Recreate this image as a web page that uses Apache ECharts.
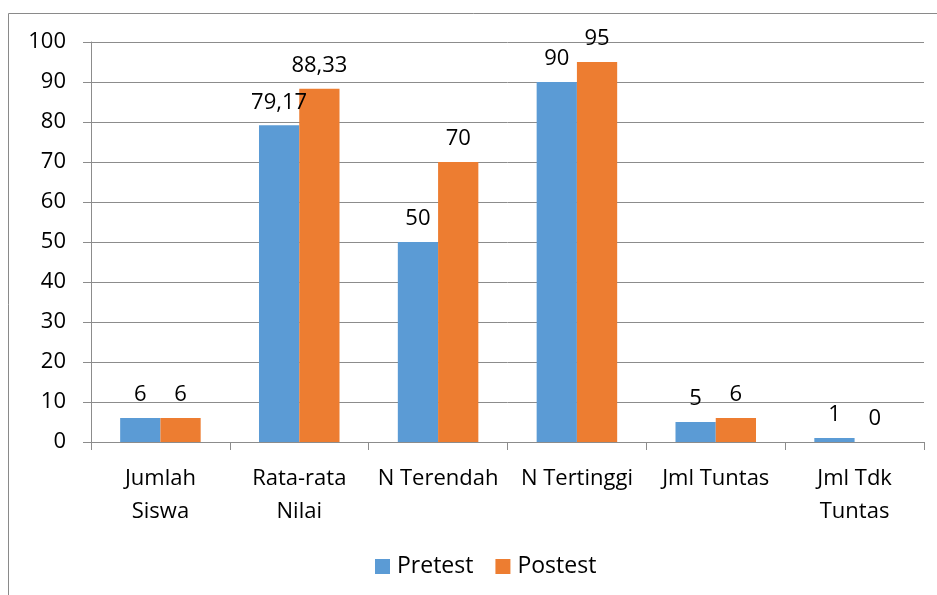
<!DOCTYPE html>
<html><head><meta charset="utf-8">
<script src="https://cdn.jsdelivr.net/npm/echarts@6/dist/echarts.min.js"></script>
<style>html,body{margin:0;padding:0;background:#fff}#c{width:937px;height:595px}</style>
</head><body><div id="c"></div>
<script>
const categories = ['Jumlah\nSiswa', 'Rata-rata\nNilai', 'N Terendah', 'N Tertinggi', 'Jml Tuntas', 'Jml Tdk\nTuntas'];
const pretest = [6, 79.17, 50, 90, 5, 1];
const postest = [6, 88.33, 70, 95, 6, 0];
const yTicks = [0, 10, 20, 30, 40, 50, 60, 70, 80, 90, 100];

const FONT = 'Open Sans';
const FS = 22;
const fmt = p => String(p.value).replace('.', ',');
const chart = echarts.init(document.getElementById('c'));
chart.setOption({
  animation: false,
  textStyle: { fontFamily: FONT },
  graphic: [{ type: 'rect', shape: { x: 8.5, y: 13.5, width: 1000, height: 1000 }, style: { fill: 'none', stroke: '#8a8a8a', lineWidth: 1 }, silent: true }],
  grid: { left: 91, right: 13, top: 42, bottom: 153 },
  legend: {
    bottom: 12, left: 370, itemWidth: 15, itemHeight: 15, itemGap: 22,
    textStyle: { fontSize: 23, color: '#000', fontFamily: FONT, padding: [0, 0, 0, 2] },
    data: ['Pretest', 'Postest'], icon: 'rect'
  },
  xAxis: {
    type: 'category', data: categories,
    axisLine: { lineStyle: { color: '#8c8c8c' } },
    axisTick: { show: true, length: 8, lineStyle: { color: '#8c8c8c' } },
    axisLabel: { fontSize: FS, color: '#000', lineHeight: 33, margin: 20, interval: 0, fontFamily: FONT }
  },
  yAxis: {
    type: 'value', min: yTicks[0], max: yTicks[yTicks.length - 1], interval: 10,
    axisLine: { show: true, lineStyle: { color: '#8c8c8c' } },
    axisTick: { show: true, length: 8, lineStyle: { color: '#8c8c8c' } },
    splitLine: { lineStyle: { color: '#8c8c8c' } },
    axisLabel: { fontSize: FS, color: '#000', margin: 25, fontFamily: FONT }
  },
  series: [
    { name: 'Pretest', type: 'bar', data: pretest, barGap: '0%', barCategoryGap: '42%',
      itemStyle: { color: '#5B9BD5' },
      label: { show: true, position: 'top', distance: 12, fontSize: FS, color: '#000', formatter: fmt, fontFamily: FONT } },
    { name: 'Postest', type: 'bar', data: postest, barGap: '0%', barCategoryGap: '42%',
      itemStyle: { color: '#ED7D31' },
      label: { show: true, position: 'top', distance: 12, fontSize: FS, color: '#000', formatter: fmt, fontFamily: FONT } }
  ]
});
</script></body></html>
